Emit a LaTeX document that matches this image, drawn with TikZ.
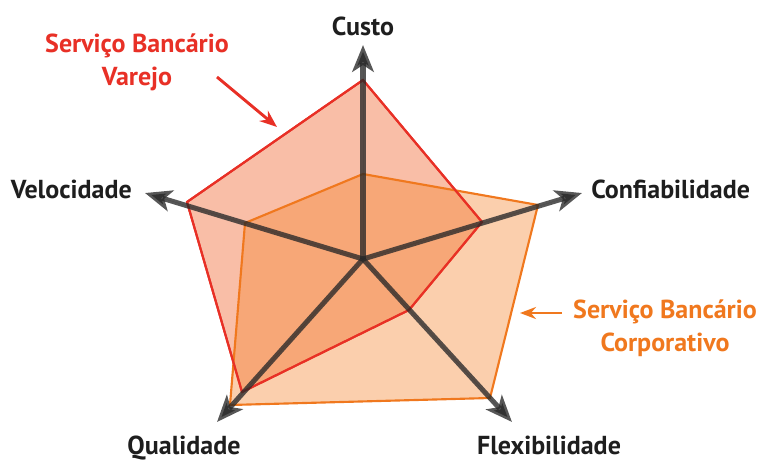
\documentclass[tikz,border=0pt]{standalone}
\usepackage{fontspec}
\setmainfont{PT Sans}
\usetikzlibrary{arrows.meta}
\definecolor{redline}{RGB}{232,48,38}
\definecolor{redfill}{RGB}{240,100,45}
\definecolor{orline}{RGB}{240,120,30}
\definecolor{orfill}{RGB}{245,130,40}
\definecolor{axisgray}{RGB}{40,40,40}
\definecolor{labelgray}{RGB}{30,30,30}
\tikzset{
  axis/.style={draw=axisgray, draw opacity=0.78, fill=axisgray, fill opacity=0.78, line width=3.8pt,
    -{Stealth[length=20pt,width=16pt,inset=5pt]}},
  axlabel/.style={font=\bfseries\fontsize{19.5}{22}\selectfont, text=labelgray, inner sep=0pt},
  redlabel/.style={font=\bfseries\fontsize{19.5}{24.75}\selectfont, text=redline, inner sep=0pt, align=center},
  orlabel/.style={font=\bfseries\fontsize{19.5}{24.75}\selectfont, text=orline, inner sep=0pt, align=center},
  redpoly/.style={fill=redfill, fill opacity=0.42, draw=redline, line width=1.6pt},
  orpoly/.style={fill=orfill, fill opacity=0.38, draw=orline, line width=1.6pt},
}
\begin{document}
\begin{tikzpicture}[x=0.75pt,y=-0.75pt]
\useasboundingbox (0,0) rectangle (760,461);
% center and axis tips
\coordinate (c) at (363,259);
\coordinate (tCusto) at (363,45);
\coordinate (tConf) at (582,193);
\coordinate (tVel) at (145,193);
\coordinate (tQual) at (217,422);
\coordinate (tFlex) at (512,422);
% red polygon vertices
\coordinate (r1) at (363,80);
\coordinate (r2) at (482,222);
\coordinate (r3) at (409,310);
\coordinate (r4) at (242,392);
\coordinate (r5) at (187,202);
% orange polygon vertices
\coordinate (o1) at (363,174);
\coordinate (o2) at (538,205);
\coordinate (o3) at (490,398);
\coordinate (o4) at (230,405);
\coordinate (o5) at (245,223);
% polygons
\path[redpoly] (r1) -- (r2) -- (r3) -- (r4) -- (r5) -- cycle;
\path[orpoly] (o1) -- (o2) -- (o3) -- (o4) -- (o5) -- cycle;
\draw[draw=redline, line width=1.6pt, line join=round] (r1) -- (r2) -- (r3) -- (r4) -- (r5) -- cycle;
% axes
\draw[axis] (c) -- (tCusto);
\draw[axis] (c) -- (tConf);
\draw[axis] (c) -- (tVel);
\draw[axis] (c) -- (tQual);
\draw[axis] (c) -- (tFlex);
% axis labels
\node[axlabel, anchor=base] (lCusto) at (363,35) {Custo};
\node[axlabel, anchor=base east] (lVel) at (132,198) {Velocidade};
\node[axlabel, anchor=base west] (lConf) at (591,198) {Confiabilidade};
\node[axlabel, anchor=base] (lQual) at (184,454) {Qualidade};
\node[axlabel, anchor=base] (lFlex) at (549,454) {Flexibilidade};
% series labels
\node[redlabel, anchor=base] (lRed) at (137,85) {Serviço Bancário\\Varejo};
\coordinate (redEnd) at (277,127);
\draw[redline, line width=2.2pt, -{Stealth[length=13pt,width=10pt]}] (217,77) -- (redEnd);
\node[orlabel, anchor=base] (lOr) at (665,351) {Serviço Bancário\\Corporativo};
\coordinate (orEnd) at (520,313);
\draw[orline, line width=2pt, -{Stealth[length=12pt,width=9pt]}] (562,313) -- (orEnd);
\end{tikzpicture}
\end{document}
